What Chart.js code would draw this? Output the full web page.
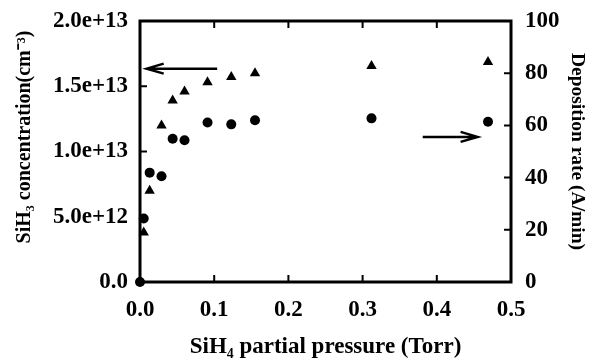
<!DOCTYPE html>
<html>
<head>
<meta charset="utf-8">
<script src="https://cdn.jsdelivr.net/npm/chart.js@4"></script>
<style>
  html, body { margin: 0; padding: 0; background: #fff; }
</style>
</head>
<body>
<canvas id="chart" width="590" height="361"></canvas>
<script>
// SiH4 partial pressure (Torr)
const pressureSiH3 = [0.005, 0.013, 0.029, 0.044, 0.060, 0.091, 0.123, 0.155, 0.312, 0.469];
const sih3Conc = [3.8e12, 7.0e12, 1.2e13, 1.39e13, 1.46e13, 1.53e13, 1.57e13, 1.60e13, 1.655e13, 1.685e13];

const pressureRate = [0, 0.005, 0.013, 0.029, 0.044, 0.060, 0.091, 0.123, 0.155, 0.312, 0.469];
const depRate = [0, 24.3, 41.9, 40.5, 54.9, 54.3, 61.1, 60.4, 62.0, 62.7, 61.4];

const xTicks = [0, 0.1, 0.2, 0.3, 0.4, 0.5];
const leftTicks = [0, 5e12, 1e13, 1.5e13, 2e13];
const rightTicks = [0, 20, 40, 60, 80, 100];

const leftTitle = 'SiH\u2083 concentration(cm\u207B\u00B3)';

// arrows pointing to the axis each series belongs to
const arrowLeft = { axis: 'y', y: 1.635e13, from: 0.104, to: 0.009 };
const arrowRight = { axis: 'y1', y: 55.6, from: 0.381, to: 0.455 };

const family = '"Liberation Serif", "Times New Roman", serif';
const tickFont = { family: family, weight: 'bold', size: 23 };

function toXY(xs, ys) {
  return xs.map((x, i) => ({ x: x, y: ys[i] }));
}

function noPad(sc) {
  sc.paddingTop = 0; sc.paddingBottom = 0;
  sc.paddingLeft = 0; sc.paddingRight = 0;
}

const frame = {
  id: 'frame',
  afterDatasetsDraw(chart) {
    const ctx = chart.ctx;
    const a = chart.chartArea;
    const s = chart.scales;
    ctx.save();
    ctx.strokeStyle = '#000';
    ctx.lineWidth = 3;
    ctx.strokeRect(a.left, a.top, a.right - a.left, a.bottom - a.top);

    // inward tick marks
    ctx.lineWidth = 2;
    ctx.beginPath();
    xTicks.forEach(v => {
      const px = s.x.getPixelForValue(v);
      ctx.moveTo(px, a.bottom); ctx.lineTo(px, a.bottom - 7);
      ctx.moveTo(px, a.top); ctx.lineTo(px, a.top + 7);
    });
    leftTicks.forEach(v => {
      const py = s.y.getPixelForValue(v);
      ctx.moveTo(a.left, py); ctx.lineTo(a.left + 7, py);
    });
    rightTicks.forEach(v => {
      const py = s.y1.getPixelForValue(v);
      ctx.moveTo(a.right, py); ctx.lineTo(a.right - 7, py);
    });
    ctx.stroke();

    // arrows
    ctx.lineWidth = 2.5;
    [arrowLeft, arrowRight].forEach(ar => {
      const py = s[ar.axis].getPixelForValue(ar.y);
      const x1 = s.x.getPixelForValue(ar.from);
      const x2 = s.x.getPixelForValue(ar.to);
      const dir = x2 > x1 ? 1 : -1;
      ctx.beginPath();
      ctx.moveTo(x1, py); ctx.lineTo(x2, py);
      ctx.moveTo(x2 - dir * 17, py - 5); ctx.lineTo(x2, py); ctx.lineTo(x2 - dir * 17, py + 5);
      ctx.stroke();
    });

    // left axis title (sits a little above the centre in the original)
    ctx.translate(25, 137);
    ctx.rotate(-Math.PI / 2);
    ctx.fillStyle = '#000';
    ctx.font = 'bold 20px ' + family;
    ctx.textAlign = 'center';
    ctx.textBaseline = 'middle';
    ctx.fillText(leftTitle, 0, 0);
    ctx.restore();
  }
};

new Chart(document.getElementById('chart'), {
  type: 'scatter',
  data: {
    datasets: [
      {
        label: 'SiH3 concentration',
        data: toXY(pressureSiH3, sih3Conc),
        yAxisID: 'y',
        pointStyle: 'triangle',
        pointRadius: 6,
        backgroundColor: '#000',
        borderColor: '#000',
        borderWidth: 0,
        clip: false
      },
      {
        label: 'Deposition rate',
        data: toXY(pressureRate, depRate),
        yAxisID: 'y1',
        pointStyle: 'circle',
        pointRadius: 5,
        backgroundColor: '#000',
        borderColor: '#000',
        borderWidth: 0,
        clip: false
      }
    ]
  },
  options: {
    responsive: false,
    animation: false,
    layout: { padding: { top: 21, left: 0, right: 0, bottom: 0 } },
    plugins: { legend: { display: false }, tooltip: { enabled: false } },
    scales: {
      x: {
        type: 'linear',
        min: 0, max: 0.5,
        afterBuildTicks: sc => { sc.ticks = xTicks.map(v => ({ value: v })); },
        afterFit: sc => { sc.height = 79; noPad(sc); },
        grid: { display: false, drawTicks: false },
        border: { display: false },
        ticks: { color: '#000', font: tickFont, padding: 14, callback: v => v.toFixed(1) },
        title: {
          display: true,
          text: 'SiH\u2084 partial pressure (Torr)',
          color: '#000',
          font: { family: family, weight: 'bold', size: 23 },
          padding: { top: 0, bottom: 0 }
        }
      },
      y: {
        position: 'left',
        min: 0, max: 2e13,
        afterBuildTicks: sc => { sc.ticks = leftTicks.map(v => ({ value: v })); },
        afterFit: sc => { sc.width = 140; noPad(sc); },
        grid: { display: false, drawTicks: false },
        border: { display: false },
        ticks: { color: '#000', font: tickFont, padding: 12, callback: v => v === 0 ? '0.0' : v.toExponential(1) },
        title: { display: false }
      },
      y1: {
        position: 'right',
        min: 0, max: 100,
        afterBuildTicks: sc => { sc.ticks = rightTicks.map(v => ({ value: v })); },
        afterFit: sc => { sc.width = 79; noPad(sc); },
        grid: { display: false, drawTicks: false },
        border: { display: false },
        ticks: { color: '#000', font: tickFont, padding: 14 },
        title: {
          display: true,
          text: 'Deposition rate (A/min)',
          color: '#000',
          font: { family: family, weight: 'bold', size: 19.5 },
          padding: { top: 1, bottom: 0 }
        }
      }
    }
  },
  plugins: [frame]
});
</script>
</body>
</html>
